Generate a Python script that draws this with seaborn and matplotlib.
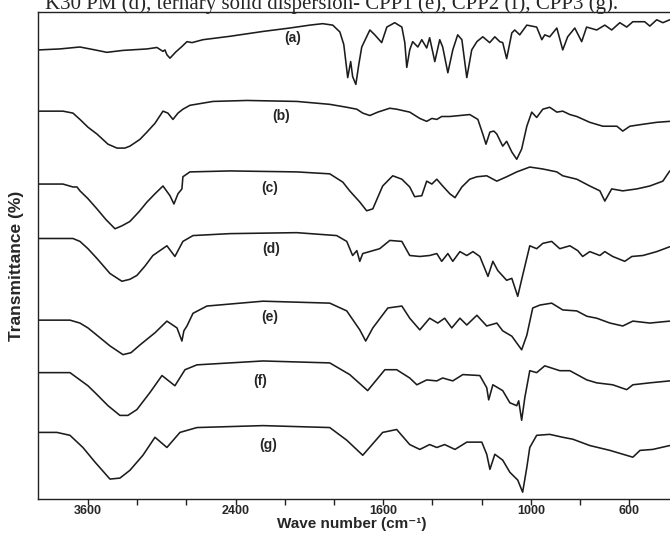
import numpy as np
import pandas as pd
import matplotlib
matplotlib.use("Agg")
import matplotlib.pyplot as plt
import seaborn as sns

# FTIR spectra: wavenumber (cm-1) and transmittance (%, stacked)
wn_a = [4000, 3828, 3665, 3543, 3446, 3315, 3120, 3039, 2990, 2974, 2958, 2933, 2885, 2836, 2795,
        2754, 2665, 2446, 2177, 1980, 1898, 1846, 1805, 1776, 1760, 1744, 1732, 1724, 1711, 1699,
        1687, 1654, 1634, 1606, 1585, 1553, 1524, 1512, 1504, 1492, 1480, 1459, 1443, 1423, 1411,
        1390, 1370, 1358, 1337, 1317, 1297, 1280, 1260, 1240, 1219, 1195, 1167, 1146, 1126, 1114,
        1098, 1077, 1065, 1045, 1016, 976, 955, 943, 923, 894, 870, 850, 821, 793, 773,
        732, 699, 671, 638, 610, 585, 537, 516, 488, 463, 435]
t_a = [92.4, 92.6, 93.0, 92.4, 91.9, 92.3, 92.6, 92.9, 92.1, 92.4, 91.4, 90.7, 92.0, 93.1, 94.1,
       93.9, 94.5, 95.2, 96.2, 96.9, 97.5, 97.8, 97.5, 96.1, 93.5, 86.7, 90.0, 86.9, 85.3, 89.4,
       93.0, 96.5, 95.5, 93.9, 97.1, 98.0, 97.1, 93.9, 88.8, 92.4, 94.1, 93.0, 94.5, 92.8, 94.9,
       90.0, 94.5, 93.0, 87.7, 92.4, 95.5, 94.5, 86.7, 92.4, 94.1, 95.1, 93.9, 95.1, 94.1, 93.9,
       90.6, 95.9, 96.5, 95.5, 97.5, 97.1, 94.5, 95.5, 95.1, 96.9, 92.4, 95.1, 96.9, 94.1, 97.1,
       96.5, 97.5, 96.5, 98.0, 97.1, 98.2, 98.2, 97.3, 98.6, 98.0, 98.6]

wn_b = [4000, 3803, 3722, 3665, 3600, 3527, 3437, 3364, 3300, 3259, 3177, 3120, 3055, 2990, 2950,
        2909, 2868, 2828, 2771, 2584, 2307, 1951, 1817, 1748, 1707, 1683, 1654, 1622, 1573, 1545,
        1492, 1451, 1423, 1402, 1382, 1362, 1329, 1288, 1248, 1215, 1195, 1182, 1166, 1150, 1138,
        1114, 1098, 1077, 1057, 1037, 1016, 996, 976, 951, 923, 894, 870, 841, 813, 760,
        707, 650, 626, 597, 544, 488, 435]
t_b = [79.8, 79.8, 79.4, 78.1, 76.5, 75.1, 73.0, 72.2, 72.2, 72.6, 74.0, 75.5, 77.3, 79.8, 79.4,
       78.1, 79.4, 80.2, 81.0, 81.8, 82.0, 81.8, 81.2, 80.6, 80.2, 79.4, 78.9, 79.6, 80.4, 80.2,
       79.6, 78.3, 77.7, 78.3, 78.1, 78.7, 78.7, 78.9, 79.1, 78.1, 75.1, 73.0, 75.5, 75.7, 75.1,
       72.6, 73.6, 71.4, 69.9, 72.0, 76.7, 79.6, 78.5, 80.2, 80.6, 79.6, 79.8, 79.1, 78.7, 77.5,
       76.7, 76.7, 75.7, 76.7, 77.1, 77.5, 77.7]

wn_c = [4000, 3803, 3722, 3689, 3665, 3600, 3527, 3454, 3380, 3324, 3259, 3185, 3120, 3055, 2990,
        2933, 2901, 2868, 2836, 2828, 2771, 2446, 1951, 1817, 1764, 1736, 1695, 1667, 1642, 1602,
        1561, 1524, 1492, 1472, 1443, 1423, 1402, 1382, 1358, 1329, 1308, 1280, 1248, 1219, 1179,
        1138, 1098, 1057, 1004, 951, 894, 870, 813, 760, 719, 699, 671, 626, 569, 516,
        463, 435]
t_c = [64.8, 64.8, 64.2, 64.2, 63.4, 61.8, 59.7, 57.5, 55.6, 56.2, 57.1, 59.1, 61.1, 62.8, 64.4,
       62.4, 60.7, 62.8, 63.8, 66.3, 67.3, 67.5, 67.3, 66.9, 65.2, 63.4, 61.1, 59.3, 59.7, 64.4,
       66.5, 65.8, 64.2, 62.2, 62.4, 65.4, 64.8, 65.8, 64.4, 62.8, 62.0, 64.2, 65.8, 66.3, 66.5,
       65.4, 66.3, 67.3, 68.3, 67.9, 67.3, 66.5, 65.8, 64.4, 63.4, 61.3, 63.8, 63.4, 63.8, 64.4,
       65.4, 67.5]

wn_d = [4000, 3722, 3665, 3600, 3527, 3421, 3324, 3259, 3202, 3137, 3072, 2958, 2893, 2828, 2746,
        2446, 1951, 1789, 1748, 1724, 1707, 1695, 1683, 1614, 1573, 1524, 1492, 1451, 1411, 1382,
        1362, 1337, 1317, 1288, 1260, 1235, 1207, 1174, 1154, 1134, 1098, 1077, 1053, 1033, 1004,
        976, 951, 915, 882, 841, 809, 789, 760, 719, 699, 667, 618, 589, 544, 488,
        435]
t_d = [53.6, 53.6, 53.0, 51.5, 49.5, 46.4, 44.8, 45.2, 46.0, 47.9, 50.1, 52.1, 49.9, 53.0, 54.2,
       54.6, 54.8, 54.2, 53.0, 50.1, 51.1, 48.9, 50.5, 51.5, 53.2, 53.0, 50.1, 49.9, 50.1, 50.5,
       48.9, 50.5, 48.9, 50.9, 50.1, 50.9, 49.9, 45.8, 48.9, 47.0, 45.0, 45.4, 41.7, 46.0, 52.1,
       51.5, 52.6, 53.0, 51.5, 52.1, 51.1, 49.9, 50.9, 50.1, 50.9, 49.9, 48.9, 49.9, 50.1, 50.9,
       51.9]

wn_e = [4000, 3746, 3665, 3600, 3527, 3421, 3315, 3250, 3177, 3055, 2958, 2876, 2836, 2820, 2795,
        2746, 2633, 2177, 1817, 1748, 1695, 1671, 1642, 1581, 1524, 1492, 1451, 1411, 1378, 1350,
        1321, 1288, 1260, 1219, 1179, 1138, 1114, 1077, 1037, 1016, 992, 963, 915, 870, 813,
        772, 732, 678, 626, 585, 516, 435]
t_e = [36.8, 36.8, 36.2, 35.2, 33.7, 31.5, 29.7, 30.1, 31.7, 34.2, 36.6, 35.2, 32.5, 34.6, 35.6,
       38.2, 39.7, 40.7, 40.3, 38.7, 34.8, 32.5, 35.2, 39.3, 39.7, 37.2, 34.8, 37.2, 36.2, 37.2,
       35.2, 37.2, 35.8, 37.8, 35.6, 36.2, 34.6, 33.5, 30.7, 33.7, 39.3, 39.9, 40.3, 38.9, 38.7,
       37.6, 37.2, 36.2, 35.6, 36.6, 36.2, 36.6]

wn_f = [4000, 3746, 3665, 3600, 3527, 3437, 3340, 3275, 3202, 3096, 2998, 2893, 2811, 2714, 2177,
        1817, 1736, 1663, 1593, 1545, 1492, 1463, 1423, 1382, 1358, 1317, 1276, 1207, 1179, 1171,
        1154, 1114, 1085, 1057, 1049, 1037, 1024, 1004, 976, 943, 882, 841, 772, 732, 667,
        610, 585, 516, 435]
t_f = [26.0, 26.0, 24.5, 23.3, 21.5, 19.2, 17.2, 17.2, 18.4, 21.9, 25.4, 23.3, 26.6, 27.6, 28.4,
       28.0, 25.6, 22.3, 26.6, 26.6, 24.9, 23.5, 24.5, 24.3, 24.9, 24.3, 25.6, 25.4, 22.9, 20.4,
       23.5, 22.3, 19.8, 19.2, 20.2, 16.2, 20.9, 26.4, 26.0, 27.4, 26.4, 26.4, 24.5, 23.9, 23.5,
       22.5, 23.5, 23.9, 24.3]

wn_g = [4000, 3852, 3746, 3641, 3543, 3421, 3340, 3259, 3153, 3055, 2958, 2852, 2714, 2177, 1817,
        1748, 1683, 1602, 1545, 1492, 1451, 1411, 1382, 1350, 1308, 1260, 1199, 1179, 1166, 1146,
        1114, 1085, 1053, 1033, 1016, 1004, 976, 923, 870, 829, 760, 678, 585, 556, 504,
        435]
t_g = [13.7, 13.7, 13.1, 10.6, 7.6, 4.1, 4.3, 5.9, 9.0, 12.7, 10.6, 13.7, 14.7, 15.1, 14.7,
       12.1, 9.0, 13.7, 14.3, 11.2, 10.2, 11.2, 10.6, 11.2, 10.2, 11.7, 11.7, 9.2, 6.1, 9.2,
       8.0, 5.5, 3.9, 1.4, 6.5, 10.6, 13.1, 13.3, 12.7, 12.3, 11.0, 10.0, 8.6, 10.0, 10.2,
       11.0]

names = ["(a)", "(b)", "(c)", "(d)", "(e)", "(f)", "(g)"]
label_wn = [1967, 2031, 2120, 2112, 2120, 2202, 2136]
label_t = [94.9, 78.7, 64.0, 51.5, 37.4, 24.3, 11.2]

tick_wn = [3600, 3200, 2800, 2400, 2000, 1800, 1600, 1400, 1200, 1000, 800, 600]
tick_text = ["3600", "", "", "2400", "", "", "1600", "", "", "1000", "", "600"]

caption = "K30 PM (d), ternary solid dispersion- CPP1 (e), CPP2 (f), CPP3 (g)."

frames = []
for name, w, t in zip(names, [wn_a, wn_b, wn_c, wn_d, wn_e, wn_f, wn_g],
                      [t_a, t_b, t_c, t_d, t_e, t_f, t_g]):
    frames.append(pd.DataFrame({"sample": name, "wn": w, "T": t}))
df = pd.concat(frames, ignore_index=True)

sns.set_theme(style="white")
plt.rcParams["font.family"] = ["Liberation Sans", "DejaVu Sans"]


# x axis changes scale at 2000 cm-1 (400 per tick above, 200 per tick below)
def fwd(w):
    return np.interp(w, [0, 2000, 5000], [-2, 8, 15.5])


def inv(p):
    return np.interp(p, [-2, 8, 15.5], [0, 2000, 5000])


fig = plt.figure(figsize=(6.7, 5.36), dpi=100)
ax = fig.add_axes([38 / 670, 37 / 536, 632 / 670, 487 / 536])

sns.lineplot(data=df, x="wn", y="T", units="sample", estimator=None,
             color="#1c1c1c", lw=1.15, ax=ax)

ax.set_xscale("function", functions=(fwd, inv))
ax.set_xlim(4006, 434)
ax.set_ylim(0, 100.2)
ax.set_xticks(tick_wn)
ax.set_xticklabels(tick_text, fontweight="bold")
ax.set_yticks([])
ax.tick_params(axis="x", bottom=True, direction="out", length=4, width=1,
               pad=0.5, labelsize=9, color="#222222")

for side in ["top", "left", "bottom"]:
    ax.spines[side].set_color("#222222")
    ax.spines[side].set_linewidth(1.0)
ax.spines["right"].set_visible(False)

for name, w, t in zip(names, label_wn, label_t):
    ax.text(w, t, name, ha="center", va="center", fontsize=10, fontweight="bold")

ax.set_xlabel("Wave number (cm\u207b\u00b9)", fontsize=11, fontweight="bold")
ax.xaxis.set_label_coords(0.497, -0.037)
ax.set_ylabel("Transmittance (%)", fontsize=12.5, fontweight="bold",
              family=["Liberation Sans Narrow", "Liberation Sans"])
ax.yaxis.set_label_coords(-0.022, 0.478)

fig.text(45 / 670, 1 - 9 / 536, caption, family=["Liberation Serif"],
         fontsize=15, ha="left", va="baseline")

fig.savefig("out.png", dpi=100)
